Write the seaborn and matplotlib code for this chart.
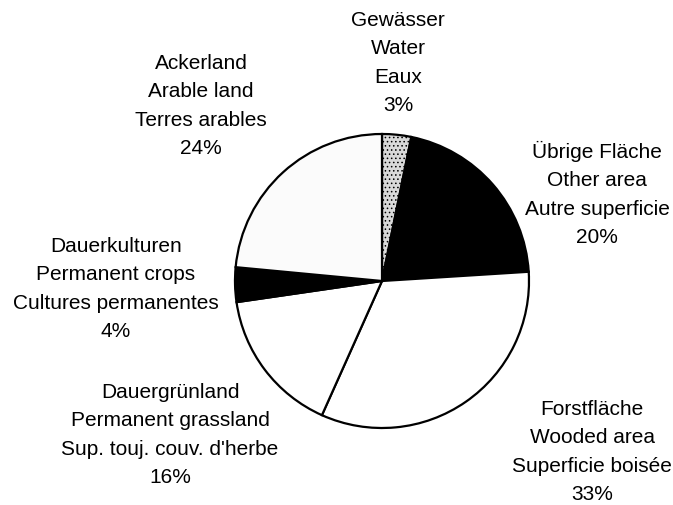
import matplotlib
matplotlib.use("Agg")
import matplotlib.pyplot as plt
import seaborn as sns

sns.set_theme(style="white")
plt.rcParams['font.family'] = ['Liberation Sans', 'DejaVu Sans']
plt.rcParams['hatch.linewidth'] = 0.6

# Data (clockwise from 12 o'clock)
names_de = ["Gewässer", "Übrige Fläche", "Forstfläche", "Dauergrünland", "Dauerkulturen", "Ackerland"]
names_en = ["Water", "Other area", "Wooded area", "Permanent grassland", "Permanent crops", "Arable land"]
names_fr = ["Eaux", "Autre superficie", "Superficie boisée", "Sup. touj. couv. d'herbe", "Cultures permanentes", "Terres arables"]
pct_labels = ["3%", "20%", "33%", "16%", "4%", "24%"]
shares = [3.2, 20.8, 32.7, 16.0, 3.8, 23.5]

colors = ["#d9d9d9", "#000000", "#ffffff", "#ffffff", "#000000", "#fbfbfb"]
hatches = ["....", None, None, None, None, None]
# label centres in pixel coords (x, y from top)
label_pos = [(398, 63), (597, 194), (592, 452), (170, 435), (116, 289), (201, 106)]

W, H = 673, 506
fig = plt.figure(figsize=(W / 100, H / 100), dpi=100)
ax = fig.add_axes([0, 0, 1, 1])

wedges, _ = ax.pie(shares, colors=colors, startangle=90, counterclock=False,
                   center=(382, H - 282), radius=147,
                   wedgeprops=dict(edgecolor="black", linewidth=1.6))
for w, h in zip(wedges, hatches):
    if h:
        w.set_hatch(h)
ax.set_xlim(0, W)
ax.set_ylim(0, H)
ax.set_aspect("equal")
ax.axis("off")

for de, en, fr, p, (x, y) in zip(names_de, names_en, names_fr, pct_labels, label_pos):
    ax.text(x, H - y, f"{de}\n{en}\n{fr}\n{p}", ha="center", va="center",
            fontsize=15, linespacing=1.62, color="black")

fig.savefig("out.png", dpi=100)
